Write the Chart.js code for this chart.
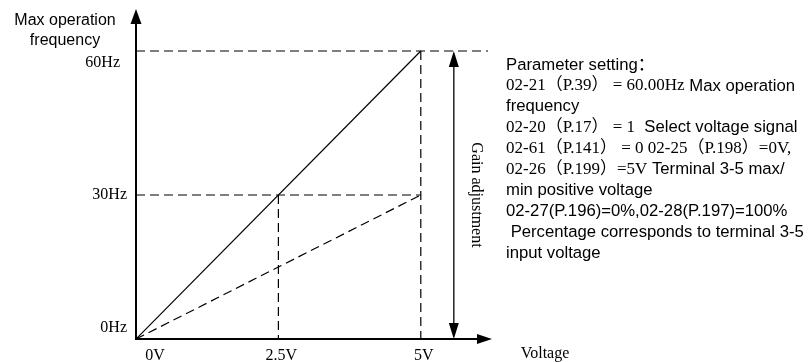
<!DOCTYPE html>
<html>
<head>
<meta charset="utf-8">
<script src="https://cdn.jsdelivr.net/npm/chart.js@4.4.0/dist/chart.umd.min.js"></script>
<style>
  body { margin: 0; background: #fff; }
  #wrap { width: 810px; height: 362px; position: relative; }
</style>
</head>
<body>
<div id="wrap"><canvas id="chart"></canvas></div>
<script>
'use strict';

// axis ticks (volts on x, Hz on y)
const voltTicks = [0, 2.5, 5];
const voltLabels = ['0V', '2.5V', '5V'];
const freqTicks = [0, 30, 60];
const freqLabels = ['0Hz', '30Hz', '60Hz'];

// the two curves: voltage in -> frequency out
const curveVolts = [0, 5];
const maxFreqCurve = [0, 60];
const gainCurve = [0, 30];

// axis extents and gain arrow position
const xAxisEnd = 6.25;
const yAxisEnd = 68.75;
const topGuideEnd = 6.18;
const gainArrowVolt = 5.58;

const SERIF = '16px "Liberation Serif", "Noto Sans CJK SC", serif';
const SANS = '16px "Liberation Sans", "Noto Sans CJK SC", sans-serif';
const NOTE_SERIF = '17px "Liberation Serif", "Noto Sans CJK SC", serif';
const NOTE_SANS = '16.7px "Liberation Sans", "Noto Sans CJK SC", sans-serif';

// text block on the right: each line is a list of [font, text]
const noteLines = [
  [[NOTE_SANS, 'Parameter setting：']],
  [[NOTE_SERIF, '02-21（P.39） = 60.00Hz'], [NOTE_SANS, ' Max operation']],
  [[NOTE_SANS, 'frequency']],
  [[NOTE_SERIF, '02-20（P.17） = 1'], [NOTE_SANS, '  Select voltage signal']],
  [[NOTE_SERIF, '02-61（P.141） = 0 02-25（P.198）=0V,']],
  [[NOTE_SERIF, '02-26（P.199）=5V'], [NOTE_SANS, ' Terminal 3-5 max/']],
  [[NOTE_SANS, 'min positive voltage']],
  [[NOTE_SANS, '02-27(P.196)=0%,02-28(P.197)=100%']],
  [[NOTE_SANS, ' Percentage corresponds to terminal 3-5']],
  [[NOTE_SANS, 'input voltage']]
];

function pts(xs, ys) {
  return xs.map((x, i) => ({ x: x, y: ys[i] }));
}

const dash = [9, 5];

function lineSet(data, dashed) {
  return {
    data: data,
    showLine: true,
    borderColor: '#000',
    borderWidth: 1.2,
    borderDash: dashed ? dash : [],
    pointRadius: 0,
    fill: false,
    tension: 0
  };
}

function arrowHead(ctx, x, y, dir, len, half) {
  ctx.beginPath();
  if (dir === 'up') {
    ctx.moveTo(x, y); ctx.lineTo(x - half, y + len); ctx.lineTo(x + half, y + len);
  } else if (dir === 'down') {
    ctx.moveTo(x, y); ctx.lineTo(x - half, y - len); ctx.lineTo(x + half, y - len);
  } else {
    ctx.moveTo(x, y); ctx.lineTo(x - len, y - half); ctx.lineTo(x - len, y + half);
  }
  ctx.closePath();
  ctx.fill();
}

const decor = {
  id: 'decor',
  afterDatasetsDraw(chart) {
    const ctx = chart.ctx;
    const xs = chart.scales.x, ys = chart.scales.y;
    const x0 = xs.getPixelForValue(0), y0 = ys.getPixelForValue(0);
    const xEnd = xs.getPixelForValue(xAxisEnd), yEnd = ys.getPixelForValue(yAxisEnd);
    ctx.save();
    ctx.fillStyle = '#000';
    ctx.strokeStyle = '#000';

    // axes
    ctx.lineWidth = 2;
    ctx.beginPath();
    ctx.moveTo(x0 - 1, y0); ctx.lineTo(xEnd - 10, y0);
    ctx.moveTo(x0, y0); ctx.lineTo(x0, yEnd + 10);
    ctx.stroke();
    arrowHead(ctx, xEnd, y0, 'right', 15, 5);
    arrowHead(ctx, x0, yEnd, 'up', 15, 5.5);

    // gain adjustment double arrow
    const gx = xs.getPixelForValue(gainArrowVolt);
    const gTop = ys.getPixelForValue(freqTicks[2]);
    ctx.lineWidth = 1.3;
    ctx.beginPath();
    ctx.moveTo(gx, gTop + 10); ctx.lineTo(gx, y0 - 10);
    ctx.stroke();
    arrowHead(ctx, gx, gTop, 'up', 16, 5);
    arrowHead(ctx, gx, y0, 'down', 16, 5);

    // rotated label
    ctx.save();
    ctx.translate(gx + 22, (gTop + y0) / 2);
    ctx.rotate(Math.PI / 2);
    ctx.font = SERIF;
    ctx.textAlign = 'center';
    ctx.textBaseline = 'middle';
    ctx.fillText('Gain adjustment', 0, 0);
    ctx.restore();

    // tick labels
    ctx.font = SERIF;
    ctx.textBaseline = 'middle';
    ctx.textAlign = 'center';
    voltTicks.forEach((v, i) => {
      const off = v === 0 ? 19 : 3;
      ctx.fillText(voltLabels[i], xs.getPixelForValue(v) + off, y0 + 17);
    });
    ctx.fillText('Voltage', xEnd + 53, y0 + 15);

    ctx.textAlign = 'right';
    const yOff = { 0: -11, 30: 0, 60: 12 };
    const xOff = { 0: -9, 30: -9, 60: -16 };
    freqTicks.forEach((f, i) => {
      ctx.fillText(freqLabels[i], x0 + xOff[f], ys.getPixelForValue(f) + yOff[f]);
    });

    // y axis title
    ctx.font = SANS;
    ctx.textAlign = 'center';
    ctx.fillText('Max operation', 65, 21);
    ctx.fillText('frequency', 65, 41);

    // parameter notes
    ctx.textAlign = 'left';
    noteLines.forEach((line, i) => {
      let x = 506;
      const y = 65 + i * 20.9;
      line.forEach(seg => {
        ctx.font = seg[0];
        ctx.fillText(seg[1], x, y);
        x += ctx.measureText(seg[1]).width;
      });
    });
    ctx.restore();
  }
};

new Chart(document.getElementById('chart'), {
  type: 'scatter',
  data: {
    datasets: [
      lineSet(pts(curveVolts, maxFreqCurve), false),
      lineSet(pts(curveVolts, gainCurve), true),
      lineSet(pts([0, topGuideEnd], [freqTicks[2], freqTicks[2]]), true),
      lineSet(pts([0, voltTicks[2]], [freqTicks[1], freqTicks[1]]), true),
      lineSet(pts([voltTicks[1], voltTicks[1]], [freqTicks[1], 0]), true),
      lineSet(pts([voltTicks[2], voltTicks[2]], [freqTicks[2], 0]), true)
    ]
  },
  options: {
    responsive: true,
    maintainAspectRatio: false,
    animation: false,
    layout: { padding: { left: 136, right: 318, top: 9, bottom: 23 } },
    plugins: { legend: { display: false }, tooltip: { enabled: false } },
    scales: {
      x: { type: 'linear', min: 0, max: xAxisEnd, display: false },
      y: { type: 'linear', min: 0, max: yAxisEnd, display: false }
    }
  },
  plugins: [decor]
});
</script>
</body>
</html>
